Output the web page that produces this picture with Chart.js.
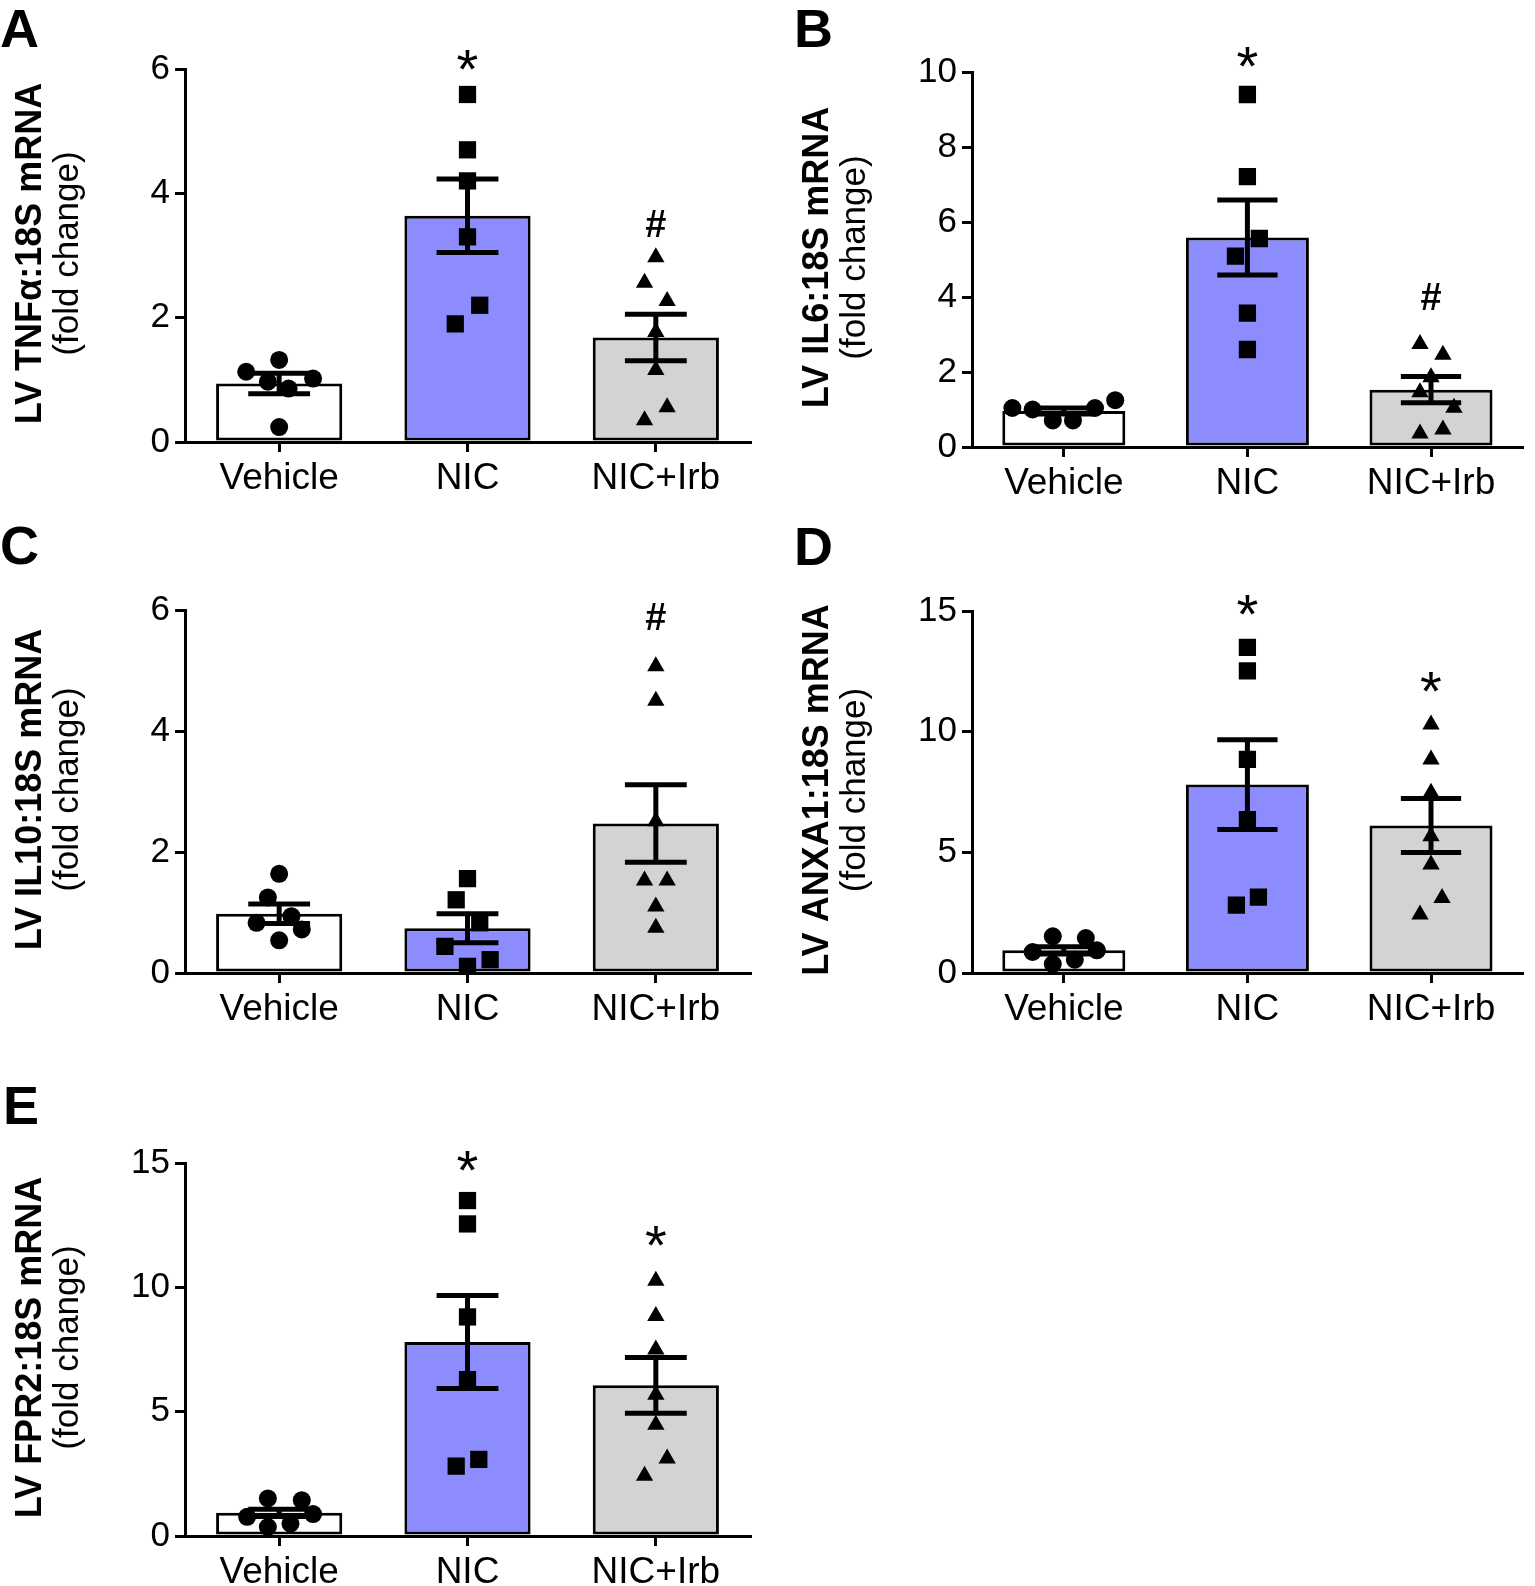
<!DOCTYPE html>
<html>
<head>
<meta charset="utf-8">
<script src="https://cdn.jsdelivr.net/npm/chart.js@4.4.1/dist/chart.umd.min.js"></script>
<style>
    html, body { margin: 0; padding: 0; background: #fff; }
    #fig { position: relative; width: 1535px; height: 1586px; overflow: hidden; background: #fff; }
    #fig canvas { position: absolute; }
</style>
</head>
<body>
<div id="fig">
    <canvas id="panelA"></canvas>
    <canvas id="panelB"></canvas>
    <canvas id="panelC"></canvas>
    <canvas id="panelD"></canvas>
    <canvas id="panelE"></canvas>
</div>
<script>
// Groups and axis ticks
const groups = ['Vehicle', 'NIC', 'NIC+Irb'];
const ticksSmall = { max: 6, step: 2 };
const ticksIL6 = { max: 10, step: 2 };
const ticksLarge = { max: 15, step: 5 };

// A - TNFa (bar = mean, error = SEM)
const tnfMean = [0.94, 3.64, 1.68];
const tnfSem = [0.165, 0.59, 0.375];
const tnfVehicle = [1.32, 1.13, 1.02, 0.97, 0.86, 0.24];
const tnfVehicleJit = [0, -0.175, 0.18, -0.06, 0.05, 0];
const tnfNic = [5.59, 4.7, 4.2, 3.3, 2.2, 1.9];
const tnfNicJit = [0, 0, 0, 0, 0.065, -0.065];
const tnfIrb = [2.97, 2.56, 2.27, 1.77, 1.16, 0.56, 0.35];
const tnfIrbJit = [0, -0.06, 0.06, 0, 0, 0.06, -0.06];
const tnfMarks = ['', '*', '#'];
const tnfMarkAt = [null, 6.11, 3.51];

// B - IL6
const il6Mean = [0.96, 5.59, 1.53];
const il6Sem = [0.08, 1.0, 0.35];
const il6Vehicle = [1.04, 1.0, 0.71, 0.71, 1.04, 1.25];
const il6VehicleJit = [-0.28, -0.17, -0.06, 0.05, 0.17, 0.28];
const il6Nic = [9.4, 7.21, 5.56, 5.09, 3.57, 2.6];
const il6NicJit = [0, 0, 0.065, -0.065, 0, 0];
const il6Irb = [2.75, 2.46, 1.86, 1.46, 1.05, 0.47, 0.36];
const il6IrbJit = [-0.06, 0.065, 0, -0.06, 0.125, 0.065, -0.06];
const il6Marks = ['', '*', '#'];
const il6MarkAt = [null, 10.35, 4.0];

// C - IL10
const il10Mean = [0.98, 0.74, 2.47];
const il10Sem = [0.16, 0.24, 0.64];
const il10Vehicle = [1.64, 1.25, 0.94, 0.83, 0.72, 0.54];
const il10VehicleJit = [0, -0.06, 0.065, -0.12, 0.12, 0];
const il10Nic = [1.56, 1.21, 0.83, 0.44, 0.22, 0.11];
const il10NicJit = [0, -0.06, 0.065, -0.12, 0.12, 0];
const il10Irb = [5.07, 4.5, 2.51, 1.53, 1.53, 1.1, 0.75];
const il10IrbJit = [0, 0, 0, -0.06, 0.06, 0, 0];
const il10Marks = ['', '', '#'];
const il10MarkAt = [null, null, 5.89];

// D - ANXA1
const anxMean = [0.94, 7.81, 6.11];
const anxSem = [0.15, 1.86, 1.12];
const anxVehicle = [1.52, 1.45, 0.87, 0.94, 0.37, 0.55];
const anxVehicleJit = [-0.06, 0.12, -0.17, 0.18, -0.06, 0.06];
const anxNic = [13.49, 12.52, 8.85, 6.36, 3.14, 2.81];
const anxNicJit = [0, 0, 0, 0, 0.06, -0.06];
const anxIrb = [10.3, 8.85, 7.47, 5.67, 4.5, 3.11, 2.42];
const anxIrbJit = [0, 0, 0, 0, 0, 0.06, -0.06];
const anxMarks = ['', '*', '*'];
const anxMarkAt = [null, 15.17, 12.0];

// E - FPR2
const fprMean = [0.93, 7.8, 6.06];
const fprSem = [0.15, 1.87, 1.12];
const fprVehicle = [1.51, 1.44, 0.77, 0.88, 0.36, 0.5];
const fprVehicleJit = [-0.06, 0.12, -0.17, 0.18, -0.06, 0.06];
const fprNic = [13.49, 12.55, 8.81, 6.29, 3.08, 2.81];
const fprNicJit = [0, 0, 0, 0, 0.06, -0.06];
const fprIrb = [10.26, 8.85, 7.5, 5.68, 4.47, 3.12, 2.42];
const fprIrbJit = [0, 0, 0, 0, 0, 0.06, -0.06];
const fprMarks = ['', '*', '*'];
const fprMarkAt = [null, 15.0, 12.0];

const FONT = '"Liberation Sans", Arial, Helvetica, sans-serif';
const barColors = ['#ffffff', '#8c8cff', '#d3d3d3'];

// Error bars, annotations, axis titles and panel letters
const figPlugin = {
    id: 'fig',
    afterDatasetDraw(chart, args, opts) {
        if (args.meta.type !== 'bar') return;
        const ctx = chart.ctx;
        const y = chart.scales.y;
        const means = chart.data.datasets[args.index].data;
        ctx.save();
        ctx.strokeStyle = '#000';
        ctx.lineWidth = 5;
        args.meta.data.forEach((bar, i) => {
            const top = y.getPixelForValue(means[i] + opts.sem[i]);
            const bot = y.getPixelForValue(means[i] - opts.sem[i]);
            const hw = bar.width * 0.245;
            ctx.beginPath();
            ctx.moveTo(bar.x, top); ctx.lineTo(bar.x, bot);
            ctx.moveTo(bar.x - hw, top); ctx.lineTo(bar.x + hw, top);
            ctx.moveTo(bar.x - hw, bot); ctx.lineTo(bar.x + hw, bot);
            ctx.stroke();
        });
        ctx.restore();
    },
    afterDraw(chart, args, opts) {
        const ctx = chart.ctx;
        const area = chart.chartArea;
        const x = chart.scales.x;
        const y = chart.scales.y;
        ctx.save();
        ctx.fillStyle = '#000';

        // significance marks
        ctx.textAlign = 'center';
        ctx.textBaseline = 'alphabetic';
        opts.marks.forEach((m, i) => {
            if (!m) return;
            const size = m === '*' ? 56 : 38;
            const lift = m === '*' ? 0.47 : 0.35;
            ctx.font = (m === '*' ? '' : 'bold ') + size + 'px ' + FONT;
            ctx.fillText(m, x.getPixelForValue(i), y.getPixelForValue(opts.markAt[i]) + lift * size);
        });

        // y-axis title (two lines, rotated)
        const cy = (area.top + area.bottom) / 2 - 2;
        ctx.save();
        ctx.translate(area.left - 144, cy);
        ctx.rotate(-Math.PI / 2);
        ctx.font = 'bold 36px ' + FONT;
        ctx.fillText(opts.title, 0, 0);
        ctx.restore();
        ctx.save();
        ctx.translate(area.left - 107, cy);
        ctx.rotate(-Math.PI / 2);
        ctx.font = '35px ' + FONT;
        ctx.fillText('(fold change)', 0, 0);
        ctx.restore();

        // panel letter
        ctx.textAlign = 'left';
        ctx.font = 'bold 54px ' + FONT;
        ctx.fillText(opts.letter, opts.letterAt[0], opts.letterAt[1]);
        ctx.restore();
    }
};

function pointSet(values, jitter, group, style, radius) {
    return {
        type: 'scatter',
        xAxisID: 'xj',
        yAxisID: 'y',
        order: 1,
        data: values.map((v, i) => ({ x: group + jitter[i], y: v })),
        pointStyle: style,
        pointRadius: radius,
        pointHoverRadius: radius,
        backgroundColor: '#000',
        borderColor: '#000',
        borderWidth: 0
    };
}

function makePanel(p) {
    const canvas = document.getElementById(p.id);
    canvas.width = p.w;
    canvas.height = p.h;
    canvas.style.left = p.left + 'px';
    canvas.style.top = p.top + 'px';
    canvas.style.width = p.w + 'px';
    canvas.style.height = p.h + 'px';

    new Chart(canvas, {
        type: 'bar',
        data: {
            labels: groups,
            datasets: [
                pointSet(p.vehicle, p.vehicleJit, 0, 'circle', 9),
                pointSet(p.nic, p.nicJit, 1, 'rect', 12.2),
                pointSet(p.irb, p.irbJit, 2, 'triangle', 10),
                {
                    type: 'bar',
                    order: 2,
                    grouped: false,
                    xAxisID: 'x',
                    data: p.mean,
                    backgroundColor: barColors,
                    borderColor: '#000',
                    borderWidth: 3,
                    borderSkipped: false,
                    barPercentage: 0.67,
                    categoryPercentage: 1
                }
            ]
        },
        options: {
            responsive: false,
            animation: false,
            devicePixelRatio: 1,
            events: [],
            layout: {
                padding: {
                    top: p.yTop - p.top,
                    left: 0,
                    right: p.left + p.w - p.xRight,
                    bottom: 0
                }
            },
            plugins: {
                legend: { display: false },
                tooltip: { enabled: false },
                fig: {
                    sem: p.sem,
                    marks: p.marks,
                    markAt: p.markAt,
                    title: p.title,
                    letter: p.letter,
                    letterAt: p.letterAt
                }
            },
            scales: {
                x: {
                    type: 'category',
                    offset: true,
                    afterFit: s => { s.height = p.top + p.h - p.yZero; },
                    grid: { offset: false, drawOnChartArea: false, drawTicks: true, tickLength: 10, color: '#000', lineWidth: 3 },
                    border: { display: true, color: '#000', width: 3 },
                    ticks: { color: '#000', font: { family: FONT, size: 37 }, padding: 5, maxRotation: 0, autoSkip: false }
                },
                xj: {
                    type: 'linear',
                    position: 'bottom',
                    display: false,
                    offset: false,
                    grace: 0,
                    min: -0.5,
                    max: 2.5
                },
                y: {
                    min: 0,
                    max: p.ticks.max,
                    afterFit: s => { s.width = p.axisX - p.left; },
                    grid: { drawOnChartArea: false, drawTicks: true, tickLength: 10, color: '#000', lineWidth: 3 },
                    border: { display: true, color: '#000', width: 3 },
                    ticks: { stepSize: p.ticks.step, color: '#000', font: { family: FONT, size: 35 }, padding: 5 }
                }
            }
        },
        plugins: [figPlugin]
    });
}

// Build the five panels when the page is ready
document.addEventListener('DOMContentLoaded', () => {
    makePanel({
        id: 'panelA', left: 0, top: 0, w: 767, h: 515, axisX: 185, yTop: 69, yZero: 442, xRight: 750,
        letter: 'A', letterAt: [0, 47], title: 'LV TNFα:18S mRNA', ticks: ticksSmall,
        mean: tnfMean, sem: tnfSem, marks: tnfMarks, markAt: tnfMarkAt,
        vehicle: tnfVehicle, vehicleJit: tnfVehicleJit, nic: tnfNic, nicJit: tnfNicJit, irb: tnfIrb, irbJit: tnfIrbJit
    });
    makePanel({
        id: 'panelB', left: 767, top: 0, w: 768, h: 515, axisX: 972, yTop: 72, yZero: 447, xRight: 1533,
        letter: 'B', letterAt: [27, 47], title: 'LV IL6:18S mRNA', ticks: ticksIL6,
        mean: il6Mean, sem: il6Sem, marks: il6Marks, markAt: il6MarkAt,
        vehicle: il6Vehicle, vehicleJit: il6VehicleJit, nic: il6Nic, nicJit: il6NicJit, irb: il6Irb, irbJit: il6IrbJit
    });
    makePanel({
        id: 'panelC', left: 0, top: 515, w: 767, h: 545, axisX: 185, yTop: 610, yZero: 973, xRight: 750,
        letter: 'C', letterAt: [0, 49], title: 'LV IL10:18S mRNA', ticks: ticksSmall,
        mean: il10Mean, sem: il10Sem, marks: il10Marks, markAt: il10MarkAt,
        vehicle: il10Vehicle, vehicleJit: il10VehicleJit, nic: il10Nic, nicJit: il10NicJit, irb: il10Irb, irbJit: il10IrbJit
    });
    makePanel({
        id: 'panelD', left: 767, top: 515, w: 768, h: 545, axisX: 972, yTop: 611, yZero: 973, xRight: 1533,
        letter: 'D', letterAt: [27, 50], title: 'LV ANXA1:18S mRNA', ticks: ticksLarge,
        mean: anxMean, sem: anxSem, marks: anxMarks, markAt: anxMarkAt,
        vehicle: anxVehicle, vehicleJit: anxVehicleJit, nic: anxNic, nicJit: anxNicJit, irb: anxIrb, irbJit: anxIrbJit
    });
    makePanel({
        id: 'panelE', left: 0, top: 1060, w: 767, h: 526, axisX: 185, yTop: 1163, yZero: 1536, xRight: 750,
        letter: 'E', letterAt: [3, 64], title: 'LV FPR2:18S mRNA', ticks: ticksLarge,
        mean: fprMean, sem: fprSem, marks: fprMarks, markAt: fprMarkAt,
        vehicle: fprVehicle, vehicleJit: fprVehicleJit, nic: fprNic, nicJit: fprNicJit, irb: fprIrb, irbJit: fprIrbJit
    });
});
</script>
</body>
</html>
